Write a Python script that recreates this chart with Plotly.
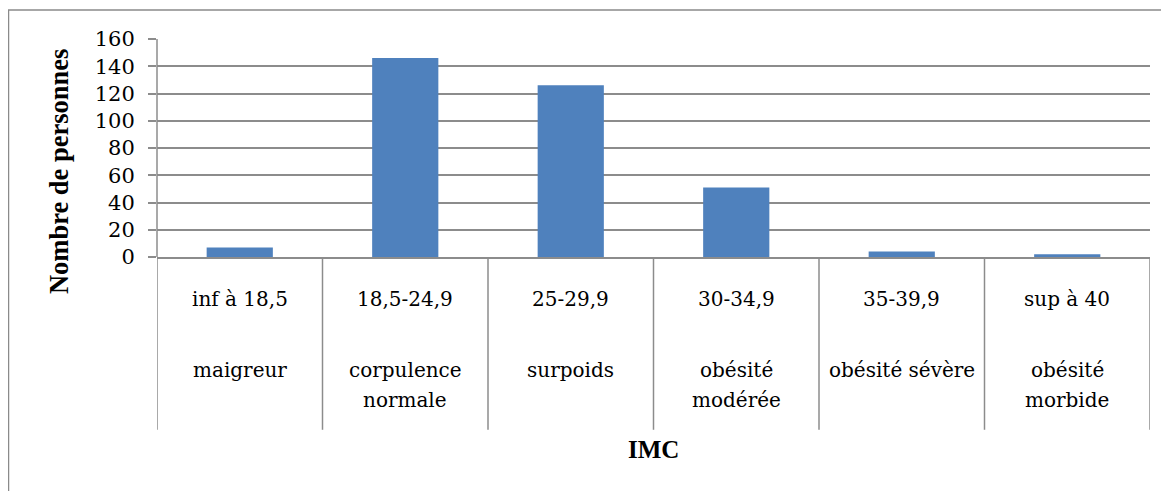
import plotly.graph_objects as go

ranges = ["inf à 18,5", "18,5-24,9", "25-29,9", "30-34,9", "35-39,9", "sup à 40"]
class_line1 = ["maigreur", "corpulence", "surpoids", "obésité", "obésité sévère", "obésité"]
class_line2 = ["", "normale", "", "modérée", "", "morbide"]
counts = [7, 146, 126, 51, 4, 2]
y_ticks = [0, 20, 40, 60, 80, 100, 120, 140, 160]

OFF = 8  # page body margin
W, H = 1169 - OFF, 491 - OFF
L, R, T, B = 157 - OFF, 1150 - OFF, 39.3 - OFF, 256.7 - OFF
pw, ph = R - L, B - T

def px(xp):
    return (xp - OFF - L) / pw

def py(yp):
    return (B - (yp - OFF)) / ph

FONT_B = "Liberation Serif"
FONT_R = "DejaVu Serif"
GRID = "#8c8c8c"
CAT_SIZE = 20

fig = go.Figure()
fig.add_trace(go.Bar(x=list(range(len(counts))), y=counts, marker_color="#4F81BD",
                     marker_line_width=0, width=0.4))

shapes = []
for i in range(len(counts) + 1):
    shapes.append(dict(type="line", xref="x", yref="paper", x0=i - 0.5, x1=i - 0.5,
                       y0=0, y1=py(429), line=dict(color=GRID, width=1.5)))
shapes.append(dict(type="line", xref="paper", yref="paper", x0=0, x1=0, y0=1, y1=0,
                   line=dict(color=GRID, width=1.5)))
shapes.append(dict(type="rect", xref="paper", yref="paper", x0=px(8.5), x1=px(1180),
                   y0=py(10.5), y1=py(500), line=dict(color="#8a8a8a", width=1.5),
                   fillcolor="rgba(0,0,0,0)", layer="below"))

annotations = []
for i in range(len(counts)):
    for text, ypix in ((ranges[i], 299), (class_line1[i], 369), (class_line2[i], 399)):
        if not text:
            continue
        annotations.append(dict(x=i, xref="x", y=py(ypix), yref="paper", text=text,
                                showarrow=False, yanchor="middle", xanchor="center",
                                font=dict(family=FONT_R, size=CAT_SIZE, color="black")))
annotations.append(dict(x=0.5, xref="paper", y=py(449), yref="paper", text="<b>IMC</b>",
                        showarrow=False, yanchor="middle", xanchor="center",
                        font=dict(family=FONT_B, size=25, color="black")))
annotations.append(dict(x=px(59), xref="paper", y=py(172), yref="paper",
                        text="<b>Nombre de personnes</b>", textangle=-90,
                        showarrow=False, yanchor="middle", xanchor="center",
                        font=dict(family=FONT_B, size=26.5, color="black")))

fig.update_layout(
    width=W, height=H,
    margin=dict(l=L, r=W - R, t=T, b=H - B, pad=0),
    paper_bgcolor="white", plot_bgcolor="white",
    showlegend=False,
    font=dict(family=FONT_R, color="black"),
    shapes=shapes, annotations=annotations,
    xaxis=dict(range=[-0.5, len(counts) - 0.5], showticklabels=False, showgrid=False,
               zeroline=False, showline=True, linecolor=GRID, linewidth=1.5, ticks=""),
    yaxis=dict(range=[0, 160], tickvals=y_ticks, showgrid=True, gridcolor=GRID,
               gridwidth=1.5, zeroline=False, showline=False, ticks="outside",
               ticklen=8, tickcolor=GRID, tickwidth=1.5, ticklabelstandoff=9,
               tickfont=dict(family=FONT_R, size=21, color="black")),
)

fig.write_html("out.html")
